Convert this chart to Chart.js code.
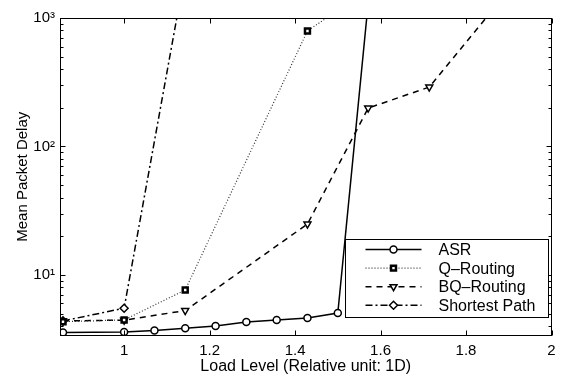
<!DOCTYPE html>
<html>
<head>
<meta charset="utf-8">
<script src="https://cdn.jsdelivr.net/npm/chart.js@4.4.0/dist/chart.umd.min.js"></script>
<style>
  html, body { margin: 0; padding: 0; background: #fff; }
</style>
</head>
<body>
<canvas id="delay" width="566" height="378"></canvas>
<script>
// values (load level vs mean packet delay, log y)
const asrLoad = [0.857, 1.0, 1.071, 1.143, 1.214, 1.286, 1.357, 1.429, 1.5, 1.571];
const asrDelay = [3.56, 3.60, 3.69, 3.85, 4.01, 4.31, 4.47, 4.63, 5.06, 1300];

const qLoad = [0.857, 1.0, 1.143, 1.429, 1.5];
const qDelay = [4.33, 4.47, 7.64, 793, 1150];

const bqLoad = [0.857, 1.0, 1.143, 1.429, 1.571, 1.714, 1.857];
const bqDelay = [4.39, 4.45, 5.28, 24.9, 199, 290, 1100];

const spLoad = [0.857, 1.0, 1.143];
const spDelay = [4.39, 5.51, 2300];

const xTicks = [1, 1.2, 1.4, 1.6, 1.8, 2];
const yMajor = [10, 100, 1000];
const yMinor = [4, 5, 6, 7, 8, 9, 20, 30, 40, 50, 60, 70, 80, 90, 200, 300, 400, 500, 600, 700, 800, 900];

const sup = {1: '\u00b9', 2: '\u00b2', 3: '\u00b3'};

function pts(xs, ys) {
    return xs.map((v, i) => ({x: v, y: ys[i]}));
}

Chart.defaults.font.family = '"Liberation Sans", Arial, sans-serif';
Chart.defaults.color = '#000';

const ctx = document.getElementById("delay").getContext('2d');

const delayData = {
    datasets: [{
        label: "ASR",
        data: pts(asrLoad, asrDelay),
        borderColor: "#000",
        borderWidth: 1.5,
        pointStyle: 'circle',
        pointRadius: 3.5,
        pointRotation: 0,
        pointBackgroundColor: "#fff",
        pointBorderColor: "#000",
        pointBorderWidth: 1.5
    }, {
        label: "Q\u2013Routing",
        data: pts(qLoad, qDelay),
        borderColor: "#333",
        borderWidth: 1.2,
        borderDash: [1, 2],
        pointStyle: 'rect',
        pointRadius: 3.5,
        pointRotation: 0,
        pointBackgroundColor: "#fff",
        pointBorderColor: "#000",
        pointBorderWidth: 2.5
    }, {
        label: "BQ\u2013Routing",
        data: pts(bqLoad, bqDelay),
        borderColor: "#000",
        borderWidth: 1.5,
        borderDash: [6, 5],
        pointStyle: 'triangle',
        pointRadius: 4,
        pointRotation: 180,
        pointBackgroundColor: "#fff",
        pointBorderColor: "#000",
        pointBorderWidth: 1.5
    }, {
        label: "Shortest Path",
        data: pts(spLoad, spDelay),
        borderColor: "#000",
        borderWidth: 1.5,
        borderDash: [7, 3, 2, 3],
        pointStyle: 'rectRot',
        pointRadius: 4,
        pointRotation: 0,
        pointBackgroundColor: "#fff",
        pointBorderColor: "#000",
        pointBorderWidth: 1.5
    }]
};

// box around the plot, inward ticks on all four sides, legend inside
const framePlugin = {
    id: 'frame',
    afterDraw(chart) {
        const c = chart.ctx;
        const a = chart.chartArea;
        const xs = chart.scales.x;
        const ys = chart.scales.y;
        const L = Math.round(a.left) + 0.5, R = Math.round(a.right) - 0.5;
        const T = Math.round(a.top) + 0.5, B = Math.round(a.bottom) - 0.5;

        c.save();
        c.strokeStyle = "#000";
        c.lineWidth = 1;
        c.strokeRect(L, T, R - L, B - T);

        c.beginPath();
        xs.ticks.forEach(t => {
            const px = Math.round(xs.getPixelForValue(t.value)) + 0.5;
            c.moveTo(px, B); c.lineTo(px, B - 5);
            c.moveTo(px, T); c.lineTo(px, T + 5);
        });
        ys.ticks.forEach(t => {
            const py = Math.round(ys.getPixelForValue(t.value)) + 0.5;
            const len = yMajor.includes(t.value) ? 5 : 3;
            c.moveTo(L, py); c.lineTo(L + len, py);
            c.moveTo(R, py); c.lineTo(R - len, py);
        });
        c.stroke();

        // legend
        const bw = 203, bh = 78;
        const bx = Math.round(a.right) - 3.5 - bw, by = Math.round(a.bottom) - 18.5 - bh;
        c.fillStyle = "#fff";
        c.fillRect(bx, by, bw, bh);
        c.strokeRect(bx, by, bw, bh);

        c.font = '16px "Liberation Sans", Arial, sans-serif';
        c.textBaseline = 'middle';
        c.textAlign = 'left';
        chart.data.datasets.forEach((ds, i) => {
            const ry = by + 10 + i * 18.6;
            const x0 = bx + 20, x1 = bx + 76, xm = (x0 + x1) / 2;
            c.strokeStyle = ds.borderColor;
            c.lineWidth = ds.borderWidth;
            c.setLineDash(ds.borderDash || []);
            c.beginPath();
            c.moveTo(x0, ry); c.lineTo(x1, ry);
            c.stroke();
            c.setLineDash([]);
            c.fillStyle = ds.pointBackgroundColor;
            c.strokeStyle = ds.pointBorderColor;
            c.lineWidth = ds.pointBorderWidth;
            Chart.helpers.drawPoint(c, {
                pointStyle: ds.pointStyle,
                rotation: ds.pointRotation,
                radius: ds.pointRadius,
                borderWidth: ds.pointBorderWidth
            }, xm, ry);
            c.fillStyle = "#000";
            c.fillText(ds.label, bx + 93, ry + 1);
        });
        c.restore();
    }
};

const delayConfig = {
    type: 'line',
    data: delayData,
    options: {
        responsive: false,
        animation: false,
        layout: {
            padding: {top: 18, right: 14.5, left: 0, bottom: 0}
        },
        plugins: {
            legend: {display: false},
            tooltip: {enabled: false}
        },
        scales: {
            x: {
                type: 'linear',
                min: 0.85,
                max: 2,
                grid: {display: false, drawTicks: false},
                border: {display: false},
                afterBuildTicks: s => { s.ticks = xTicks.map(v => ({value: v})); },
                afterFit: s => { s.height = 42.5; },
                ticks: {
                    font: {size: 15},
                    padding: 6,
                    maxRotation: 0,
                    autoSkip: false,
                    callback: v => String(v)
                },
                title: {
                    display: true,
                    text: "Load Level (Relative unit: 1D)",
                    font: {size: 16},
                    padding: {top: 0, bottom: 2}
                }
            },
            y: {
                type: 'logarithmic',
                min: 3.38,
                max: 1000,
                grid: {display: false, drawTicks: false},
                border: {display: false},
                afterBuildTicks: s => {
                    s.ticks = yMinor.concat(yMajor).sort((p, q) => p - q).map(v => ({value: v}));
                },
                afterFit: s => { s.width = 60; },
                ticks: {
                    font: {size: 15},
                    padding: 5,
                    autoSkip: false,
                    callback: v => yMajor.includes(v) ? '10' + sup[Math.round(Math.log10(v))] : ''
                },
                title: {
                    display: true,
                    text: "Mean Packet Delay",
                    font: {size: 15},
                    padding: {top: 14, bottom: 0}
                }
            }
        }
    },
    plugins: [framePlugin]
};

const delayChart = new Chart(ctx, delayConfig);
</script>
</body>
</html>
